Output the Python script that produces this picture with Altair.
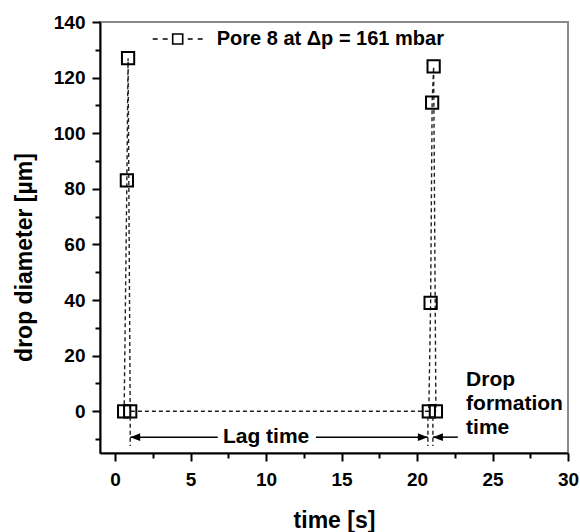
import altair as alt
import pandas as pd

# ---- data ----
time_s = [0.6, 0.78, 0.86, 1.0, 20.78, 20.9, 21.0, 21.1, 21.25]
diameter_um = [0, 83, 127, 0, 0, 39, 111, 124, 0]
series_name = "Pore 8 at \u0394p = 161 mbar"

x_major = [0, 5, 10, 15, 20, 25, 30]
x_minor = [2.5, 7.5, 12.5, 17.5, 22.5, 27.5]
y_major = [0, 20, 40, 60, 80, 100, 120, 140]
y_minor = [-10, 10, 30, 50, 70, 90, 110, 130]

# annotation values (data units)
marker_x = [1.0, 20.72, 21.05]
marker_top = [-2, -2, -2]
marker_bottom = [-12.5, -12.5, -12.5]
seg_start = [1.0, 13.3, 21.05]
seg_end = [6.8, 20.72, 22.7]
arrow_y = [-9.3, -9.3, -9.3]
head_left_x = [1.0, 21.05]
head_right_x = [20.72]
lag_label = ["Lag time"]
lag_label_x = [10.0]
drop_label = ["Drop", "formation", "time"]
drop_label_x = [23.25, 23.25, 23.25]
drop_label_y = [9.0, 0.6, -8.3]

FONT = "Liberation Sans"

df = pd.DataFrame({"t": time_s, "d": diameter_um,
                   "order": list(range(len(time_s))),
                   "series": [series_name] * len(time_s)})
markers = pd.DataFrame({"x": marker_x, "y": marker_top, "y2": marker_bottom})
segs = pd.DataFrame({"x": seg_start, "x2": seg_end, "y": arrow_y})
hl = pd.DataFrame({"x": head_left_x, "y": arrow_y[:len(head_left_x)]})
hr = pd.DataFrame({"x": head_right_x, "y": arrow_y[:len(head_right_x)]})
lag = pd.DataFrame({"x": lag_label_x, "y": arrow_y[:1], "t": lag_label})
drop = pd.DataFrame({"x": drop_label_x, "y": drop_label_y, "t": drop_label})

xscale = alt.Scale(domain=[-1, 30], nice=False, zero=False)
yscale = alt.Scale(domain=[-15, 140], nice=False, zero=False)

xaxis = alt.Axis(
    title="time [s]", values=x_major, tickSize=8, orient="bottom",
    labelPadding=9, titlePadding=20, labelOverlap=False, labelFlush=False,
    grid=False)
yaxis = alt.Axis(
    title="drop diameter [\u00b5m]", values=y_major, tickSize=8, orient="left",
    labelPadding=7, titleX=-64, titleY=235, labelOverlap=False, labelFlush=False,
    grid=False)
xaxis_minor = alt.Axis(title=None, values=x_minor, tickSize=5, labels=False, orient="bottom",
                       domain=False, grid=False)
yaxis_minor = alt.Axis(title=None, values=y_minor, tickSize=5, labels=False, orient="left",
                       domain=False, grid=False)

legend_symbol = ("M-1,0H-0.8M-0.6,0H-0.4M-0.2,-0.2H0.2V0.2H-0.2ZM0.4,0H0.6M0.8,0H1")

line = alt.Chart(df).mark_line(strokeDash=[4, 3], strokeWidth=1.4, color="#222").encode(
    x=alt.X("t:Q", scale=xscale, axis=xaxis),
    y=alt.Y("d:Q", scale=yscale, axis=yaxis),
    order="order:Q")

minor = alt.Chart(df).mark_point(opacity=0).encode(
    x=alt.X("t:Q", scale=xscale, axis=xaxis_minor),
    y=alt.Y("d:Q", scale=yscale, axis=yaxis_minor))

points = alt.Chart(df).mark_point(shape="square", filled=False, size=150, strokeWidth=2,
                                  opacity=1).encode(
    x=alt.X("t:Q", scale=xscale, axis=None),
    y=alt.Y("d:Q", scale=yscale, axis=None),
    color=alt.Color("series:N", scale=alt.Scale(range=["black"]),
                    legend=alt.Legend(title=None, orient="none", legendX=51.7, legendY=-9,
                                      symbolType=legend_symbol, symbolSize=2500,
                                      symbolStrokeWidth=1.6, symbolStrokeColor="black",
                                      symbolFillColor="transparent", symbolOpacity=1,
                                      labelFont=FONT, labelFontSize=20, labelFontWeight="bold",
                                      labelColor="black", labelOffset=13, padding=0,
                                      labelLimit=400)))

mk = alt.Chart(markers).mark_rule(strokeDash=[4, 3], strokeWidth=1.4, color="#222").encode(
    x=alt.X("x:Q", axis=None), y=alt.Y("y:Q", axis=None), y2="y2:Q")
sg = alt.Chart(segs).mark_rule(strokeWidth=1.5, color="black").encode(
    x=alt.X("x:Q", axis=None), x2="x2:Q", y=alt.Y("y:Q", axis=None))
left_head = alt.Chart(hl).mark_point(shape="M0,0L1,-0.38L1,0.38Z", filled=True, size=400,
                                     color="black", opacity=1).encode(
    x=alt.X("x:Q", axis=None), y=alt.Y("y:Q", axis=None))
right_head = alt.Chart(hr).mark_point(shape="M0,0L-1,-0.38L-1,0.38Z", filled=True, size=400,
                                      color="black", opacity=1).encode(
    x=alt.X("x:Q", axis=None), y=alt.Y("y:Q", axis=None))
lag_text = alt.Chart(lag).mark_text(font=FONT, fontSize=21, fontWeight="bold", color="black",
                                    baseline="middle", align="center").encode(
    x=alt.X("x:Q", axis=None), y=alt.Y("y:Q", axis=None), text="t:N")
drop_text = alt.Chart(drop).mark_text(font=FONT, fontSize=21, fontWeight="bold", color="black",
                                      baseline="alphabetic", align="left").encode(
    x=alt.X("x:Q", axis=None), y=alt.Y("y:Q", axis=None), text="t:N")

chart = alt.layer(line, minor, points, mk, sg, left_head, right_head, lag_text, drop_text).resolve_scale(
    x="shared", y="shared"
).resolve_axis(
    x="independent", y="independent"
).properties(
    width=468, height=431,
    autosize=alt.AutoSizeParams(type="none"),
    padding={"left": 100, "top": 22, "right": 12, "bottom": 79},
    background="white",
).configure_view(
    stroke="#8a8a8a", strokeWidth=2
).configure_axis(
    domainColor="black", domainWidth=2, tickColor="black", tickWidth=2,
    labelFont=FONT, labelFontSize=19, labelFontWeight="bold", labelColor="black",
    titleFont=FONT, titleFontSize=23, titleFontWeight="bold", titleColor="black",
)

chart.save("out.html", embed_options={"renderer": "svg", "actions": False})
